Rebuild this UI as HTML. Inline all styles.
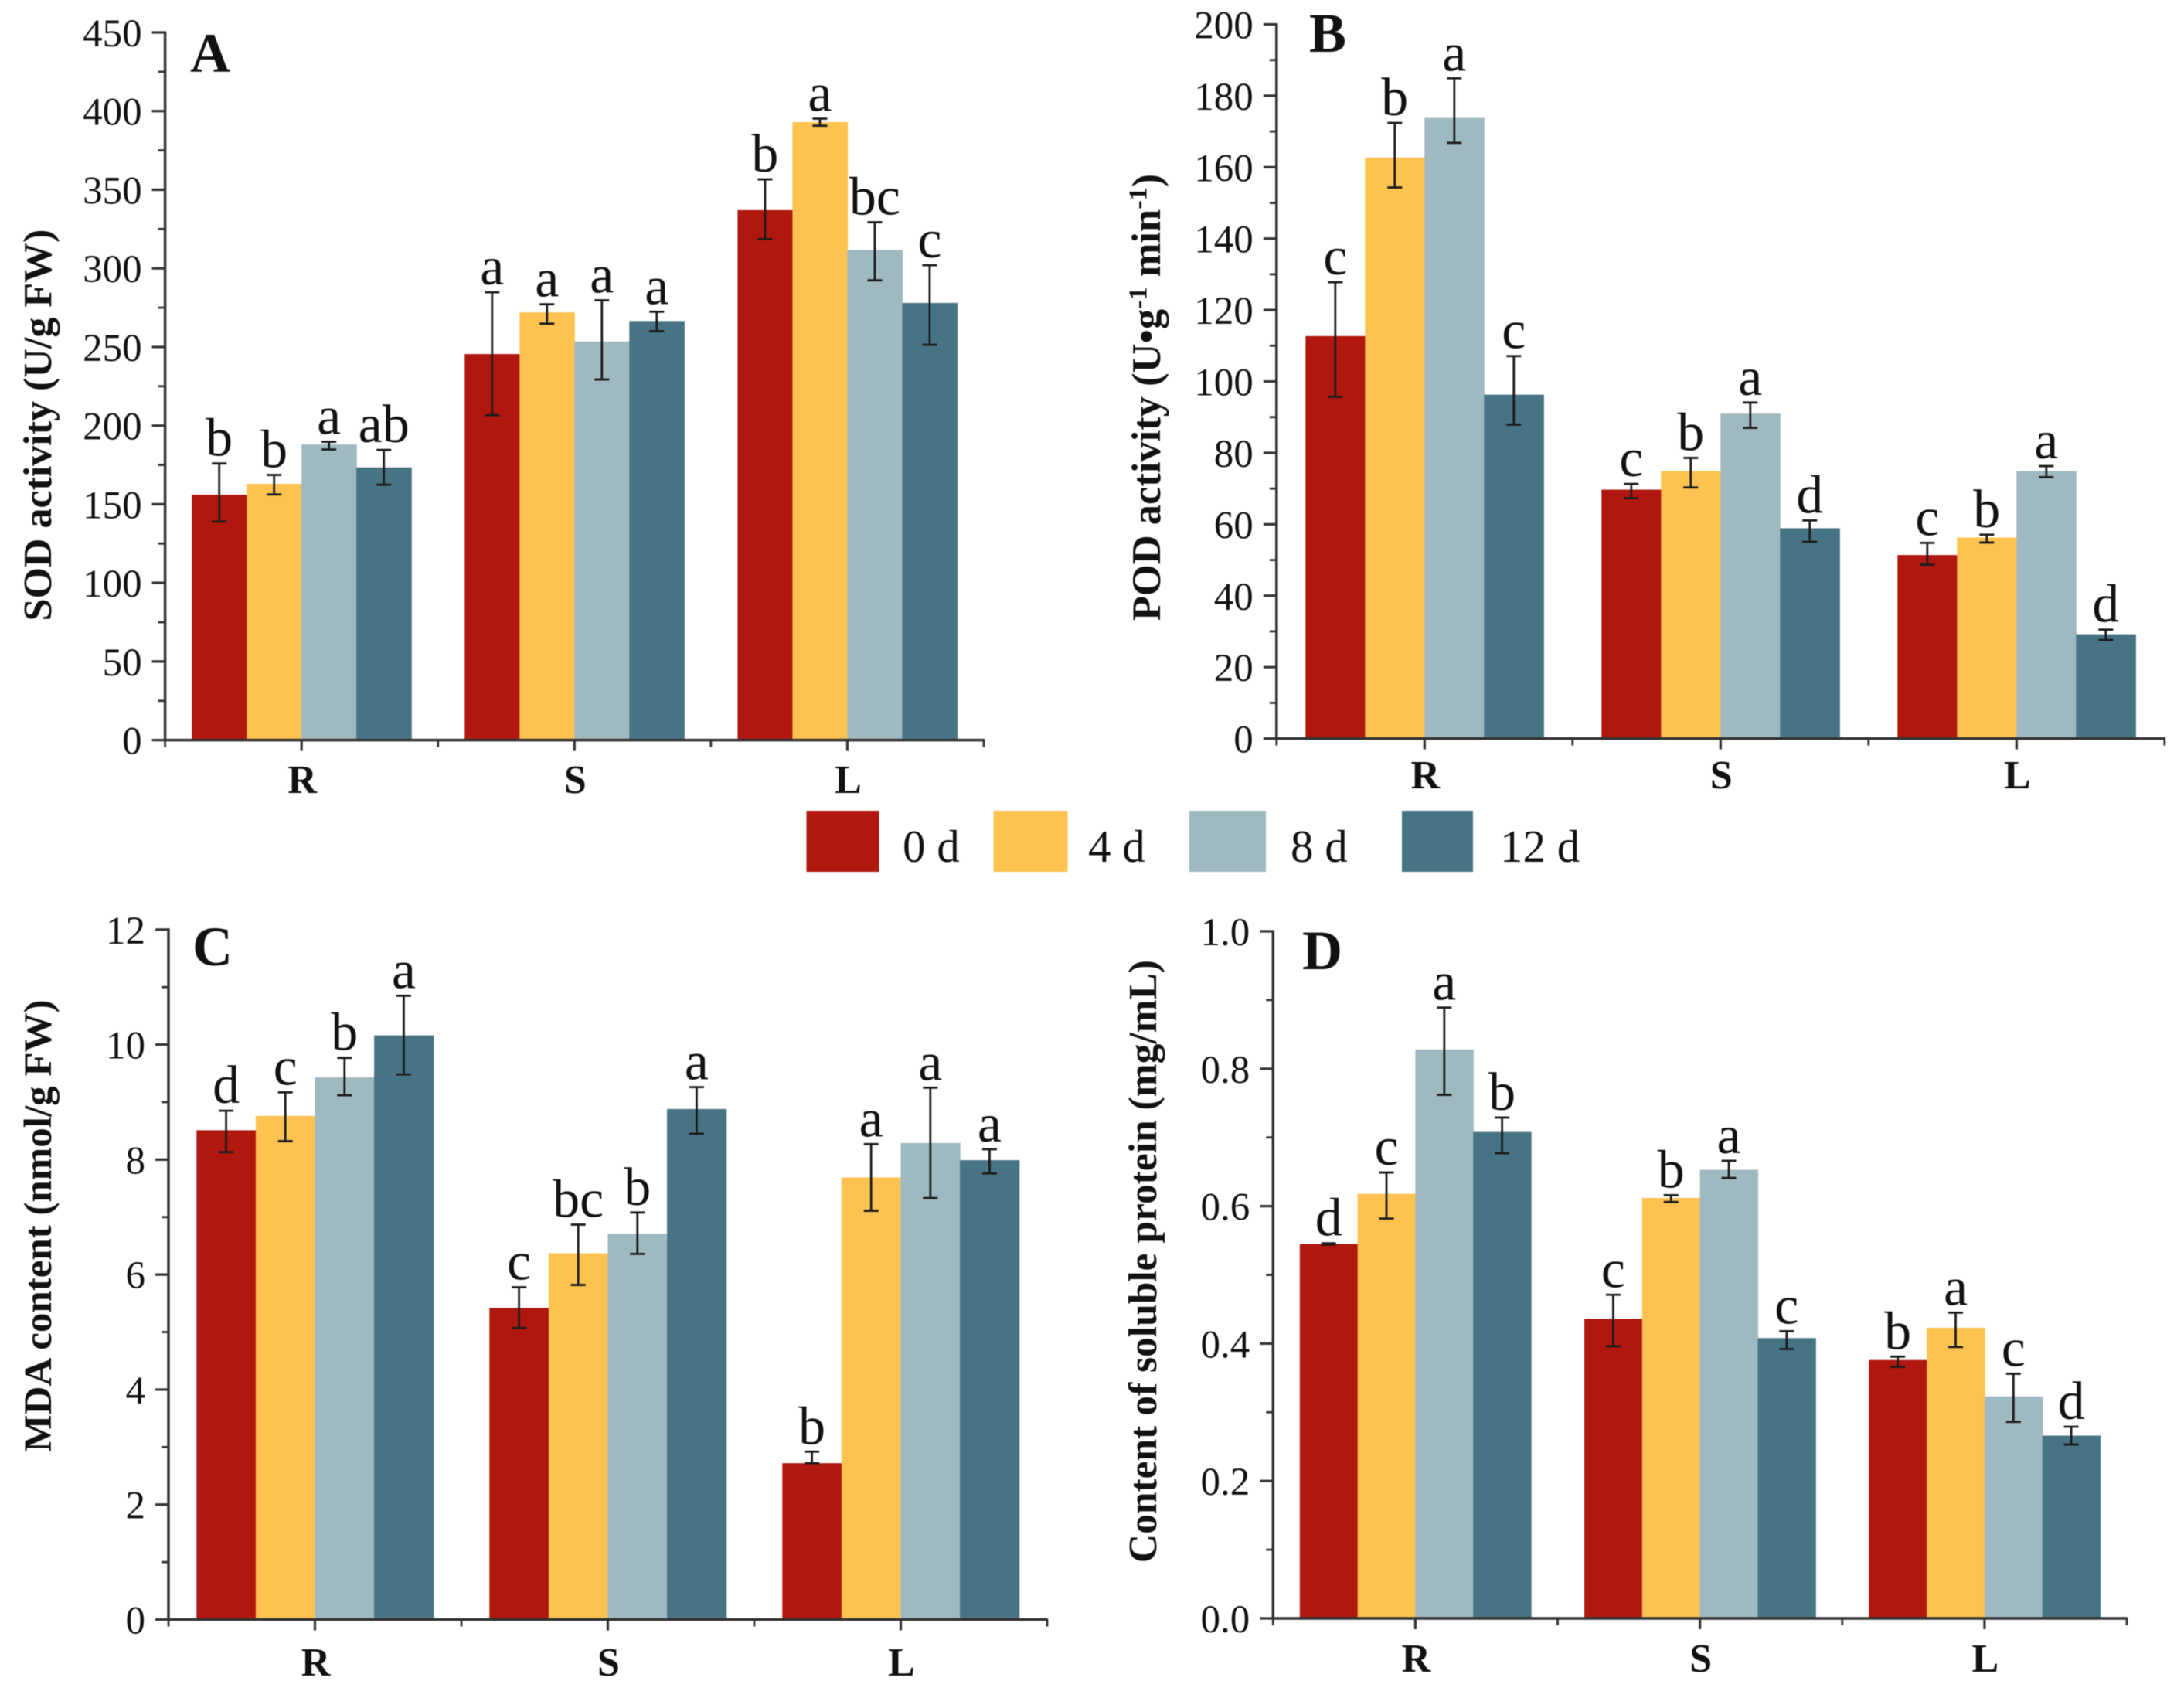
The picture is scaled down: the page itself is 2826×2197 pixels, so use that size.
<!DOCTYPE html>
<html lang="en">
<head>
<meta charset="utf-8">
<title>Antioxidant measures by tissue and time</title>
<style>
html,body{margin:0;padding:0;background:#fff;}
body{width:2826px;height:2197px;overflow:hidden;}
svg{display:block;filter:blur(0.6px);}
text{font-family:"Liberation Serif","Times New Roman",serif;fill:#111;}
</style>
</head>
<body>
<svg id="figure" xmlns="http://www.w3.org/2000/svg" width="2826" height="2197" viewBox="0 0 2826 2197">
  <rect x="0" y="0" width="2826" height="2197" fill="#ffffff"/>
  <g id="legend">
    <rect x="1043.5" y="1049" width="94" height="79" fill="#B0170F"/>
    <text x="1168" y="1115" font-size="59">0 d</text>
    <rect x="1285.5" y="1049" width="96" height="79" fill="#FDC250"/>
    <text x="1408" y="1115" font-size="59">4 d</text>
    <rect x="1539" y="1049" width="99" height="79" fill="#9FB9C0"/>
    <text x="1670" y="1115" font-size="59">8 d</text>
    <rect x="1814" y="1049" width="92" height="79" fill="#477485"/>
    <text x="1941" y="1115" font-size="59">12 d</text>
  </g>
</svg>
<script>
// ---- shared categories ----
const categories = ['R', 'S', 'L'];
const seriesNames = ['0d', '4d', '8d', '12d'];

// ---- Panel A: SOD activity (rows = series 0d,4d,8d,12d; columns = R,S,L) ----
const sodTicks = ['0', '50', '100', '150', '200', '250', '300', '350', '400', '450'];
const sodMeans = [[156, 245.5, 337], [163, 272, 393], [188, 253.5, 311.7], [173.4, 266.5, 278]];
const sodErrHigh = [[175.9, 284.8, 356.6], [168.6, 277.2, 395.2], [189.7, 279.7, 329.3], [184.5, 272.4, 302]];
const sodErrLow = [[139, 206.6, 318.6], [156.2, 264.8, 390.7], [184.8, 229.3, 292.4], [162.4, 260, 251.4]];
const sodLetters = [['b', 'a', 'b'], ['b', 'a', 'a'], ['a', 'a', 'bc'], ['ab', 'a', 'c']];

// ---- Panel B: POD activity ----
const podTicks = ['0', '20', '40', '60', '80', '100', '120', '140', '160', '180', '200'];
const podMeans = [[112.7, 69.7, 51.4], [162.7, 74.9, 56.3], [173.8, 91, 74.9], [96.3, 58.9, 29.2]];
const podErrHigh = [[127.8, 71.3, 54.8], [172.4, 78.6, 57.1], [184.9, 94.1, 76.3], [107.1, 61.1, 30.5]];
const podErrLow = [[95.7, 67.3, 48.7], [154.3, 70.3, 54.9], [166.8, 87, 73.2], [87.9, 55.1, 27.6]];
const podLetters = [['c', 'c', 'c'], ['b', 'b', 'b'], ['a', 'a', 'a'], ['c', 'd', 'd']];

// ---- Panel C: MDA content ----
const mdaTicks = ['0', '2', '4', '6', '8', '10', '12'];
const mdaMeans = [[8.51, 5.42, 2.72], [8.76, 6.37, 7.69], [9.43, 6.71, 8.29], [10.16, 8.88, 7.99]];
const mdaErrHigh = [[8.85, 5.78, 2.92], [9.17, 6.87, 8.27], [9.77, 7.08, 9.25], [10.85, 9.26, 8.18]];
const mdaErrLow = [[8.13, 5.07, 2.72], [8.32, 5.82, 7.11], [9.12, 6.36, 7.33], [9.48, 8.45, 7.76]];
const mdaLetters = [['d', 'c', 'b'], ['c', 'bc', 'a'], ['b', 'b', 'a'], ['a', 'a', 'a']];

// ---- Panel D: soluble protein ----
const proteinTicks = ['0.0', '0.2', '0.4', '0.6', '0.8', '1.0'];
const proteinMeans = [[0.545, 0.436, 0.376], [0.618, 0.612, 0.423], [0.828, 0.653, 0.323], [0.708, 0.408, 0.266]];
const proteinErrHigh = [[0.546, 0.471, 0.381], [0.649, 0.616, 0.445], [0.889, 0.666, 0.356], [0.729, 0.418, 0.279]];
const proteinErrLow = [[0.544, 0.396, 0.366], [0.582, 0.606, 0.395], [0.762, 0.641, 0.286], [0.677, 0.392, 0.253]];
const proteinLetters = [['d', 'c', 'b'], ['c', 'b', 'a'], ['a', 'a', 'c'], ['b', 'c', 'd']];

const seriesColors = ['#B0170F', '#FDC250', '#9FB9C0', '#477485'];
const INK = '#1c1c1c';
const AXIS = '#333333';
const NS = 'http://www.w3.org/2000/svg';
const root = document.getElementById('figure');

function mk(tag, attrs, parent, txt) {
  const el = document.createElementNS(NS, tag);
  for (const k in attrs) el.setAttribute(k, attrs[k]);
  if (txt !== undefined) el.textContent = txt;
  parent.appendChild(el);
  return el;
}

function drawPanel(p) {
  const g = mk('g', {}, root);
  
  

  const tickVals = p.ticks.map(Number);
  const yMax = tickVals[tickVals.length - 1];
  const yScale = v => p.y0 - (v / yMax) * (p.y0 - p.yTop);
  const groupW = (p.xRight - p.xLeft) / categories.length;
  const xCenter = i => p.xLeft + groupW * (i + 0.5);
  const barLeft = (c, s) => xCenter(c) + (s - seriesNames.length / 2) * p.barW;

  // bars
  seriesNames.forEach((sName, s) => {
    categories.forEach((cat, c) => {
      const top = yScale(p.means[s][c]);
      const bar = mk('rect', { x: barLeft(c, s), y: top, width: p.barW + 0.6, height: p.y0 - top, fill: seriesColors[s] }, g);
      
      
    });
  });

  // error bars and significance letters
  seriesNames.forEach((sName, s) => {
    categories.forEach((cat, c) => {
      const cx = barLeft(c, s) + p.barW / 2;
      const yHi = yScale(p.errHigh[s][c]);
      const yLo = yScale(p.errLow[s][c]);
      const err = mk('path', {
        d: 'M' + (cx - 9.5) + ' ' + yHi + 'H' + (cx + 9.5) + 'M' + cx + ' ' + yHi + 'V' + yLo + 'M' + (cx - 9.5) + ' ' + yLo + 'H' + (cx + 9.5),
        fill: 'none', stroke: INK, 'stroke-width': 2.8
      }, g);
      
      
      const letter = mk('text', { x: cx, y: yHi - 10, 'font-size': 70, 'text-anchor': 'middle' }, g, p.letters[s][c]);
      
      
    });
  });

  // y axis
  const yAxis = mk('line', { x1: p.xLeft, x2: p.xLeft, y1: p.yTop - 1.5, y2: p.y0 + 1.5, stroke: AXIS, 'stroke-width': 3.5 }, g);
  
  
  p.ticks.forEach((label, i) => {
    const v = tickVals[i];
    const major = mk('line', { x1: p.xLeft - 17, x2: p.xLeft, y1: yScale(v), y2: yScale(v), stroke: AXIS, 'stroke-width': 3.2 }, g);
    
    
    const tl = mk('text', { x: p.xLeft - 30, y: yScale(v) + 18, 'font-size': 51, 'text-anchor': 'end' }, g, label);
    
    
    if (i < p.ticks.length - 1) {
      const mid = (v + tickVals[i + 1]) / 2;
      const minor = mk('line', { x1: p.xLeft - 9, x2: p.xLeft, y1: yScale(mid), y2: yScale(mid), stroke: AXIS, 'stroke-width': 2.8 }, g);
      
      
    }
  });

  // x axis
  const xAxis = mk('line', { x1: p.xLeft - 1.5, x2: p.xRight + 1, y1: p.y0, y2: p.y0, stroke: AXIS, 'stroke-width': 3.5 }, g);
  
  
  for (let i = 0; i <= categories.length; i++) {
    const bx = p.xLeft + groupW * i;
    const bound = mk('line', { x1: bx, x2: bx, y1: p.y0, y2: p.y0 + 9, stroke: AXIS, 'stroke-width': 2.8 }, g);
    
    
  }
  categories.forEach((cat, c) => {
    const tk = mk('line', { x1: xCenter(c), x2: xCenter(c), y1: p.y0, y2: p.y0 + 14, stroke: AXIS, 'stroke-width': 3.2 }, g);
    
    
    const xl = mk('text', { x: xCenter(c) + 1, y: p.xLabelY, 'font-size': 52, 'font-weight': 700, 'text-anchor': 'middle' }, g, cat);
    
    
  });

  // panel letter
  const tag = mk('text', { x: p.tagX, y: p.tagY, 'font-size': 72, 'font-weight': 700 }, g, p.id);
  
  

  // y title
  const title = mk('text', {
    x: p.titleX, y: p.titleY, 'font-size': p.titleSize, 'font-weight': 700, 'text-anchor': 'middle',
    transform: 'rotate(-90 ' + p.titleX + ' ' + p.titleY + ')'
  }, g);
  
  
  p.title.forEach(part => {
    const small = part[1];
    const ts = mk('tspan', small ? { 'font-size': p.titleSize * 0.65, dy: -p.titleSize * 0.33 } : { dy: part[2] ? p.titleSize * 0.33 : 0 }, title, part[0]);
    
    
  });
}

drawPanel({ id: 'A', ticks: sodTicks, means: sodMeans, errHigh: sodErrHigh, errLow: sodErrLow, letters: sodLetters,
  xLeft: 213.6, xRight: 1273, y0: 957.6, yTop: 42, barW: 71, xLabelY: 1026, tagX: 246, tagY: 93,
  titleX: 66, titleY: 550, titleSize: 52, title: [['SOD activity (U/g FW)']] });
drawPanel({ id: 'B', ticks: podTicks, means: podMeans, errHigh: podErrHigh, errLow: podErrLow, letters: podLetters,
  xLeft: 1651.8, xRight: 2800.8, y0: 955.6, yTop: 31.5, barW: 77, xLabelY: 1020, tagX: 1694, tagY: 67,
  titleX: 1501, titleY: 514, titleSize: 52.5, title: [['POD activity (U•g'], ['-1', true], [' min', false, true], ['-1', true], [')', false, true]] });
drawPanel({ id: 'C', ticks: mdaTicks, means: mdaMeans, errHigh: mdaErrHigh, errLow: mdaErrLow, letters: mdaLetters,
  xLeft: 218, xRight: 1355, y0: 2095.5, yTop: 1202.8, barW: 76.6, xLabelY: 2168, tagX: 249, tagY: 1249,
  titleX: 66, titleY: 1586, titleSize: 51, title: [['MDA content (nmol/g FW)']] });
drawPanel({ id: 'D', ticks: proteinTicks, means: proteinMeans, errHigh: proteinErrHigh, errLow: proteinErrLow, letters: proteinLetters,
  xLeft: 1647.3, xRight: 2752, y0: 2094, yTop: 1205, barW: 74.8, xLabelY: 2163, tagX: 1685, tagY: 1254,
  titleX: 1496, titleY: 1632, titleSize: 51.5, title: [['Content of soluble protein (mg/mL)']] });
</script>
</body>
</html>
